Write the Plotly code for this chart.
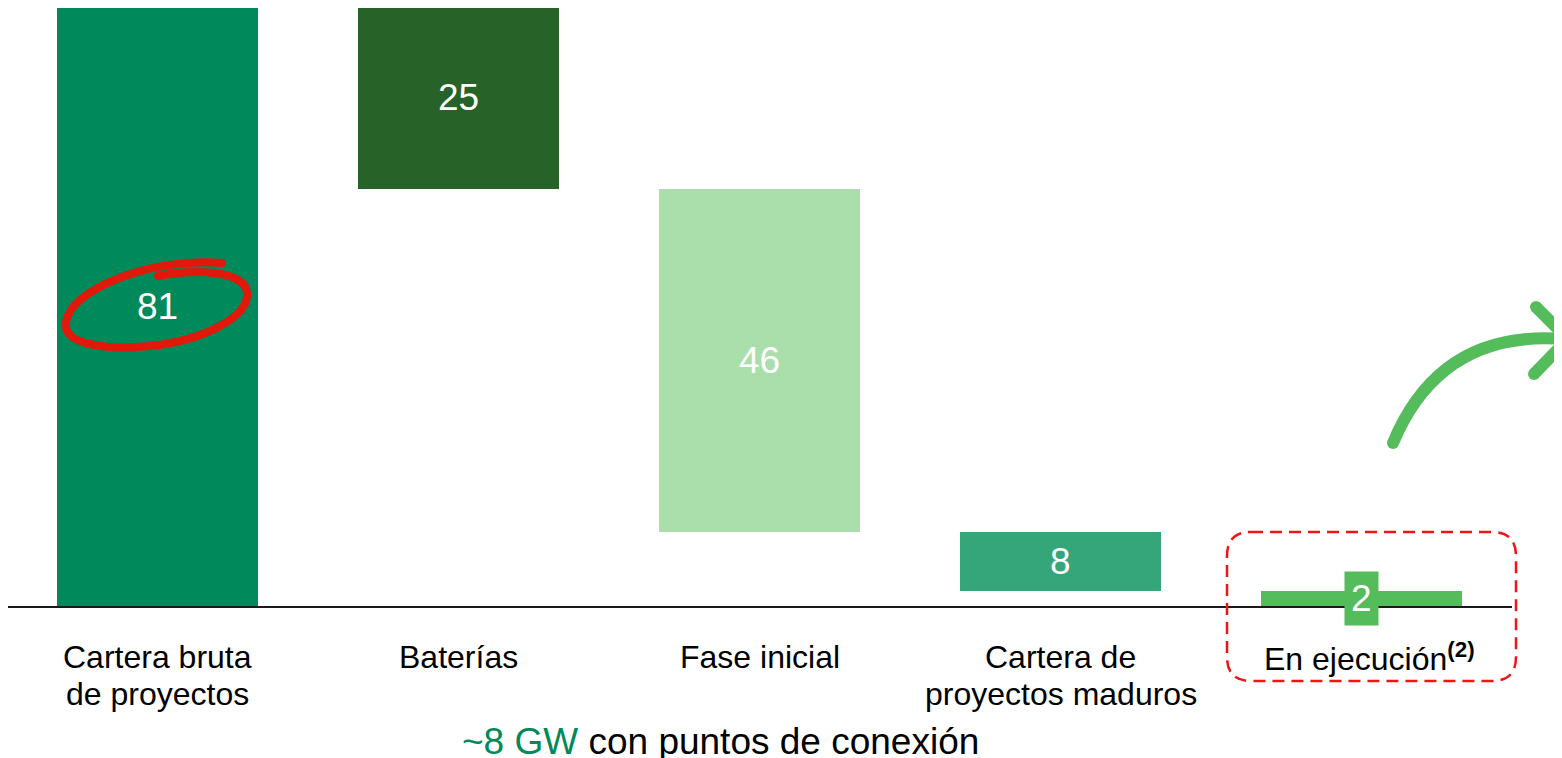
import plotly.graph_objects as go

# ---------------- data ----------------
categories = ["Cartera bruta<br>de proyectos", "Baterías", "Fase inicial",
              "Cartera de<br>proyectos maduros", "En ejecución<sup><b>(2)</b></sup>"]
values = [81, 24.6, 46.4, 8, 2]          # bar heights
measures = ["total", "down", "down", "down", "total"]
value_labels = ["81", "25", "46", "8", "2"]
bar_colors = ["#00895A", "#276228", "#AADFAC", "#34A67A", "#55BC5B"]

# compute waterfall bases from the data
bases, running = [], 0.0
for v, m in zip(values, measures):
    if m == "total":
        bases.append(0.0)
        running = v
    else:
        running -= v
        bases.append(running)

# ---------------- layout geometry ----------------
OFF = 8                      # page body margin
W, H = 1562 - OFF, 758 - OFF
ML, MT = 0, 0
PW = 1504                    # plot width (page x 8 .. 1512)
PH = 598                     # plot height (page y 8 .. 606)
MR = W - ML - PW
MB = H - MT - PH
FONT = "Arial, Liberation Sans, sans-serif"


def px(x):                    # page pixel x -> paper
    return (x - OFF - ML) / PW


def py(y):                    # page pixel y -> paper
    return (OFF + MT + PH - y) / PH


xs = list(range(len(categories)))
fig = go.Figure()
fig.add_trace(go.Bar(
    x=xs, y=values, base=bases, width=0.668,
    marker=dict(color=bar_colors, line=dict(width=0)),
    hoverinfo="skip", showlegend=False,
))

annotations = []
# value labels
for i, (b, v, lab) in enumerate(zip(bases, values, value_labels)):
    ann = dict(x=i, y=b + v / 2, xref="x", yref="y", text=lab, showarrow=False,
               font=dict(family=FONT, size=37, color="white"),
               xanchor="center", yanchor="middle")
    if i == len(values) - 1:
        ann.update(bgcolor="#55BC5B", borderpad=6)
    annotations.append(ann)

# category labels (one annotation per line)
line_y = [657, 694]
for i, cat in enumerate(categories):
    for j, line in enumerate(cat.split("<br>")):
        annotations.append(dict(
            x=i, y=py(line_y[j]), xref="x", yref="paper", text=line,
            showarrow=False, xanchor="center", yanchor="middle",
            xshift=8 if "sup" in line else 0,
            font=dict(family=FONT, size=32, color="black")))

# bottom note
annotations.append(dict(
    x=px(720), y=py(741), xref="paper", yref="paper", showarrow=False,
    xanchor="center", yanchor="middle",
    text="<span style='color:#00895A'>~8 GW</span> con puntos de conexión",
    font=dict(family=FONT, size=37, color="black")))

shapes = []


def P(x, y):
    return f"{px(x):.5f},{py(y):.5f}"


# red hand-drawn ellipse around "81"
ell = ("M " + P(222, 263) +
       " C " + P(150, 257) + " " + P(70, 290) + " " + P(66, 322) +
       " C " + P(62, 346) + " " + P(110, 350) + " " + P(150, 346) +
       " C " + P(200, 341) + " " + P(250, 318) + " " + P(247, 292) +
       " C " + P(244, 272) + " " + P(200, 268) + " " + P(158, 276))
shapes.append(dict(type="path", xref="paper", yref="paper", path=ell,
                   line=dict(color="#E0190B", width=8)))
for cx, cy, r, col in [(222, 263, 4, "#E0190B"), (158, 276, 4, "#E0190B")]:
    shapes.append(dict(type="circle", xref="paper", yref="paper",
                       x0=px(cx - r), x1=px(cx + r), y0=py(cy + r), y1=py(cy - r),
                       fillcolor=col, line=dict(width=0)))

# dashed rounded box around "En ejecución"
x0, x1, y0, y1, r = 1227, 1516, 532, 681, 24
box = ("M " + P(x0 + r, y0) + " L " + P(x1 - r, y0) +
       " Q " + P(x1, y0) + " " + P(x1, y0 + r) +
       " L " + P(x1, y1 - r) + " Q " + P(x1, y1) + " " + P(x1 - r, y1) +
       " L " + P(x0 + r, y1) + " Q " + P(x0, y1) + " " + P(x0, y1 - r) +
       " L " + P(x0, y0 + r) + " Q " + P(x0, y0) + " " + P(x0 + r, y0) + " Z")
shapes.append(dict(type="path", xref="paper", yref="paper", path=box,
                   line=dict(color="#F01515", width=2.5, dash="12px,7px")))

# green curved arrow
ac = "#55BC5B"
shapes.append(dict(type="path", xref="paper", yref="paper",
                   path="M " + P(1393, 443) + " Q " + P(1440, 330) + " " + P(1562, 339),
                   line=dict(color=ac, width=12)))
shapes.append(dict(type="path", xref="paper", yref="paper",
                   path="M " + P(1536, 307) + " L " + P(1568, 339) + " L " + P(1534, 374),
                   line=dict(color=ac, width=12)))
for cx, cy in [(1393, 443), (1536, 307), (1534, 374)]:
    r = 6
    shapes.append(dict(type="circle", xref="paper", yref="paper",
                       x0=px(cx - r), x1=px(cx + r), y0=py(cy + r), y1=py(cy - r),
                       fillcolor=ac, line=dict(width=0)))

# axis range chosen so that category spacing is 301 px and 81 sits at page y=7
x_lo = (OFF - 157.5) / 301
y_hi = 81 * PH / 599

fig.update_layout(
    width=W, height=H,
    margin=dict(l=ML, r=MR, t=MT, b=MB),
    plot_bgcolor="white", paper_bgcolor="white",
    bargap=0, showlegend=False,
    xaxis=dict(range=[x_lo, 4.5], showticklabels=False, showgrid=False,
               zeroline=False, showline=True, linecolor="#1a1a1a", linewidth=2,
               ticks=""),
    yaxis=dict(range=[0, y_hi], visible=False, showgrid=False, zeroline=False),
    annotations=annotations, shapes=shapes,
)

fig.write_html("out.html")
